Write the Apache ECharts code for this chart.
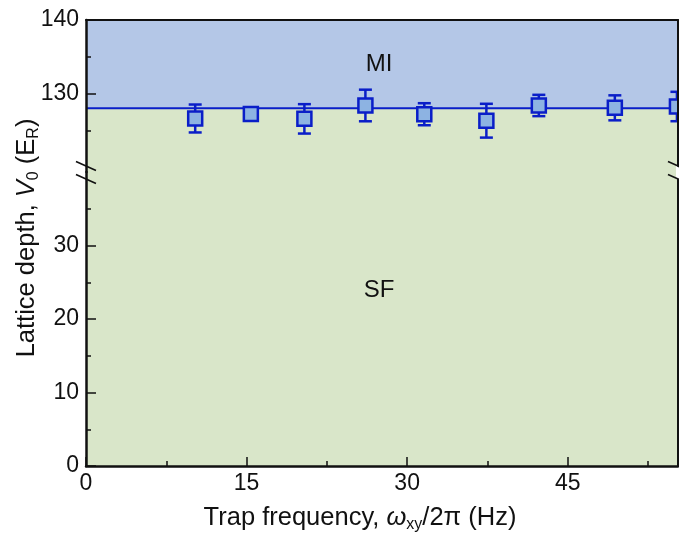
<!DOCTYPE html>
<html>
<head>
<meta charset="utf-8">
<script src="https://cdn.jsdelivr.net/npm/echarts@6/dist/echarts.min.js"></script>
<style>html,body{margin:0;padding:0;background:#fff}#c{width:679px;height:536px}</style>
</head>
<body>
<div id="c"></div>
<script>
// ---- data ----
const freq = [10.2, 15.4, 20.4, 26.1, 31.6, 37.4, 42.3, 49.4, 55.2];
const depth = [126.6, 127.2, 126.55, 128.37, 127.18, 126.3, 128.37, 128.05, 128.23];
const depthErr = [1.9, 0.5, 2.0, 2.15, 1.5, 2.3, 1.45, 1.7, 2.0];
const boundaryX = [0, 55.3];
const boundaryY = [128.0, 128.0];
const xMajorTicks = [0, 15, 30, 45];
const xMinorTicks = [7.5, 22.5, 37.5, 52.5];
const yUpperMajor = [130, 140];
const yUpperMinor = [125, 135];
const yLowerMajor = [0, 10, 20, 30];
const yLowerMinor = [5, 15, 25, 35];
const xRange = [0, 55.3];
const yUpperRange = [119.32, 140];
const yLowerRange = [0, 40];

// ---- style ----
const FONT = 'Liberation Sans';
const DARK = '#0A1EC8';
const FILL = '#8DB3E2';
const BLUE_BG = '#B4C7E7';
const GREEN_BG = '#D9E6C9';
const GL = 86, GR = 678, GT = 20, GM = 172, GB = 466;

const chart = echarts.init(document.getElementById('c'), null, {renderer: 'canvas'});

function yAx(grid, range, opts) {
  return Object.assign({
    type: 'value', gridIndex: grid, min: range[0], max: range[1], position: 'left', z: 10,
    splitLine: {show: false},
    axisLine: {show: false},
    axisTick: {show: false},
    axisLabel: {show: false}
  }, opts);
}
function xAx(grid, opts) {
  return Object.assign({
    type: 'value', gridIndex: grid, min: xRange[0], max: xRange[1], position: 'bottom', z: 10,
    splitLine: {show: false},
    axisLine: {show: false},
    axisTick: {show: false},
    axisLabel: {show: false}
  }, opts);
}
const labelStyle = {fontFamily: FONT, fontSize: 23, color: '#111'};

const option = {
  animation: false,
  backgroundColor: '#fff',
  grid: [
    {left: GL, width: GR - GL, top: GT, height: GM - GT, containLabel: false},
    {left: GL, width: GR - GL, top: GM, height: GB - GM, containLabel: false}
  ],
  xAxis: [
    xAx(0, {position: 'top', axisLine: {show: true, onZero: false, lineStyle: {color: '#111', width: 2}}}),
    xAx(1, {
      axisLine: {show: true, onZero: false, lineStyle: {color: '#111', width: 2.5}},
      axisTick: {show: true, inside: true, length: 9, customValues: xMajorTicks, lineStyle: {color: '#111', width: 1.5}},
      axisLabel: Object.assign({show: true, customValues: xMajorTicks, margin: 6}, labelStyle)
    }),
    xAx(1, {
      axisTick: {show: true, inside: true, length: 5, customValues: xMinorTicks, lineStyle: {color: '#111', width: 1.5}}
    })
  ],
  yAxis: [
    yAx(0, yUpperRange, {
      axisLine: {show: true, onZero: false, lineStyle: {color: '#111', width: 2.5}},
      axisTick: {show: true, inside: true, length: 10, customValues: yUpperMajor, lineStyle: {color: '#111', width: 1.5}},
      axisLabel: Object.assign({show: true, customValues: yUpperMajor, margin: 7}, labelStyle)
    }),
    yAx(0, yUpperRange, {
      axisTick: {show: true, inside: true, length: 5, customValues: yUpperMinor, lineStyle: {color: '#111', width: 1.5}}
    }),
    yAx(0, yUpperRange, {position: 'right', axisLine: {show: true, onZero: false, lineStyle: {color: '#111', width: 2}}}),
    yAx(1, yLowerRange, {
      axisLine: {show: true, onZero: false, lineStyle: {color: '#111', width: 2.5}},
      axisTick: {show: true, inside: true, length: 10, customValues: yLowerMajor, lineStyle: {color: '#111', width: 1.5}},
      axisLabel: Object.assign({show: true, customValues: yLowerMajor, margin: 7}, labelStyle)
    }),
    yAx(1, yLowerRange, {
      axisTick: {show: true, inside: true, length: 5, customValues: yLowerMinor, lineStyle: {color: '#111', width: 1.5}}
    }),
    yAx(1, yLowerRange, {position: 'right', axisLine: {show: true, onZero: false, lineStyle: {color: '#111', width: 2}}})
  ],
  series: [
    {
      type: 'line', xAxisIndex: 0, yAxisIndex: 0, data: [], silent: true, z: 0,
      markArea: {
        silent: true,
        data: [
          [{xAxis: xRange[0], yAxis: boundaryY[0], itemStyle: {color: BLUE_BG}}, {xAxis: xRange[1], yAxis: yUpperRange[1]}],
          [{xAxis: xRange[0], yAxis: yUpperRange[0], itemStyle: {color: GREEN_BG}}, {xAxis: xRange[1], yAxis: boundaryY[0]}]
        ]
      }
    },
    {
      type: 'line', xAxisIndex: 1, yAxisIndex: 3, data: [], silent: true, z: 0,
      markArea: {
        silent: true,
        data: [
          [{xAxis: xRange[0], yAxis: yLowerRange[0], itemStyle: {color: GREEN_BG}}, {xAxis: xRange[1], yAxis: yLowerRange[1]}]
        ]
      }
    },
    {
      type: 'line', xAxisIndex: 0, yAxisIndex: 0, z: 3, silent: true,
      symbol: 'none',
      lineStyle: {color: DARK, width: 2},
      data: boundaryX.map((x, i) => [x, boundaryY[i]])
    },
    {
      type: 'custom', xAxisIndex: 0, yAxisIndex: 0, z: 4, silent: true,
      encode: {x: 0, y: 1},
      data: freq.map((x, i) => [x, depth[i], depthErr[i]]),
      renderItem: function (params, api) {
        const x = api.value(0), y = api.value(1), e = api.value(2);
        const t = api.coord([x, y + e]);
        const b = api.coord([x, y - e]);
        const hw = 6.5;
        const st = {stroke: DARK, lineWidth: 2.5};
        return {
          type: 'group',
          children: [
            {type: 'line', shape: {x1: t[0], y1: t[1], x2: b[0], y2: b[1]}, style: st},
            {type: 'line', shape: {x1: t[0] - hw, y1: t[1], x2: t[0] + hw, y2: t[1]}, style: st},
            {type: 'line', shape: {x1: b[0] - hw, y1: b[1], x2: b[0] + hw, y2: b[1]}, style: st}
          ]
        };
      }
    },
    {
      type: 'scatter', xAxisIndex: 0, yAxisIndex: 0, z: 5, silent: true,
      symbol: 'rect', symbolSize: 14,
      itemStyle: {color: FILL, borderColor: DARK, borderWidth: 2.5, opacity: 1},
      data: freq.map((x, i) => [x, depth[i]])
    }
  ],
  graphic: [
    // axis break marks
    {type: 'line', z: 100, shape: {x1: GL - 10, y1: 161.5, x2: GL + 10, y2: 170.5}, style: {stroke: '#111', lineWidth: 1.6}},
    {type: 'line', z: 100, shape: {x1: GL - 10, y1: 174.5, x2: GL + 10, y2: 183.5}, style: {stroke: '#111', lineWidth: 1.6}},
    {type: 'polygon', z: 99, shape: {points: [[GR - 2, 166], [GR + 3, 168.5], [GR + 3, 180.5], [GR - 2, 178]]}, style: {fill: '#fff'}},
    {type: 'line', z: 100, shape: {x1: GR - 10, y1: 161.5, x2: GR + 10, y2: 170.5}, style: {stroke: '#111', lineWidth: 1.6}},
    {type: 'line', z: 100, shape: {x1: GR - 10, y1: 174.5, x2: GR + 10, y2: 183.5}, style: {stroke: '#111', lineWidth: 1.6}},
    // region labels
    {type: 'text', z: 100, x: 379, y: 64, style: {text: 'MI', fontFamily: FONT, fontSize: 24, fill: '#111', align: 'center', verticalAlign: 'middle'}},
    {type: 'text', z: 100, x: 379, y: 290, style: {text: 'SF', fontFamily: FONT, fontSize: 24, fill: '#111', align: 'center', verticalAlign: 'middle'}},
    // axis titles
    {type: 'text', z: 100, x: 27, y: 238, rotation: Math.PI / 2,
      style: {
        text: 'Lattice depth, {it|V}{sub|0} (E{sub|R})',
        fontFamily: FONT, fontSize: 25.5, fill: '#111', align: 'center', verticalAlign: 'middle',
        lineHeight: 30,
        rich: {
          it: {fontFamily: FONT, fontSize: 25.5, fontStyle: 'italic', fill: '#111', lineHeight: 30},
          sub: {fontFamily: FONT, fontSize: 16, fill: '#111', verticalAlign: 'bottom', lineHeight: 15}
        }
      }
    },
    {type: 'text', z: 100, x: 360, y: 518,
      style: {
        text: 'Trap frequency, {it|ω}{sub|xy}/2π (Hz)',
        fontFamily: FONT, fontSize: 25.5, fill: '#111', align: 'center', verticalAlign: 'middle',
        lineHeight: 30,
        rich: {
          it: {fontFamily: FONT, fontSize: 25.5, fontStyle: 'italic', fill: '#111', lineHeight: 30},
          sub: {fontFamily: FONT, fontSize: 16, fill: '#111', verticalAlign: 'bottom', lineHeight: 15}
        }
      }
    }
  ]
};
chart.setOption(option);
</script>
</body>
</html>
